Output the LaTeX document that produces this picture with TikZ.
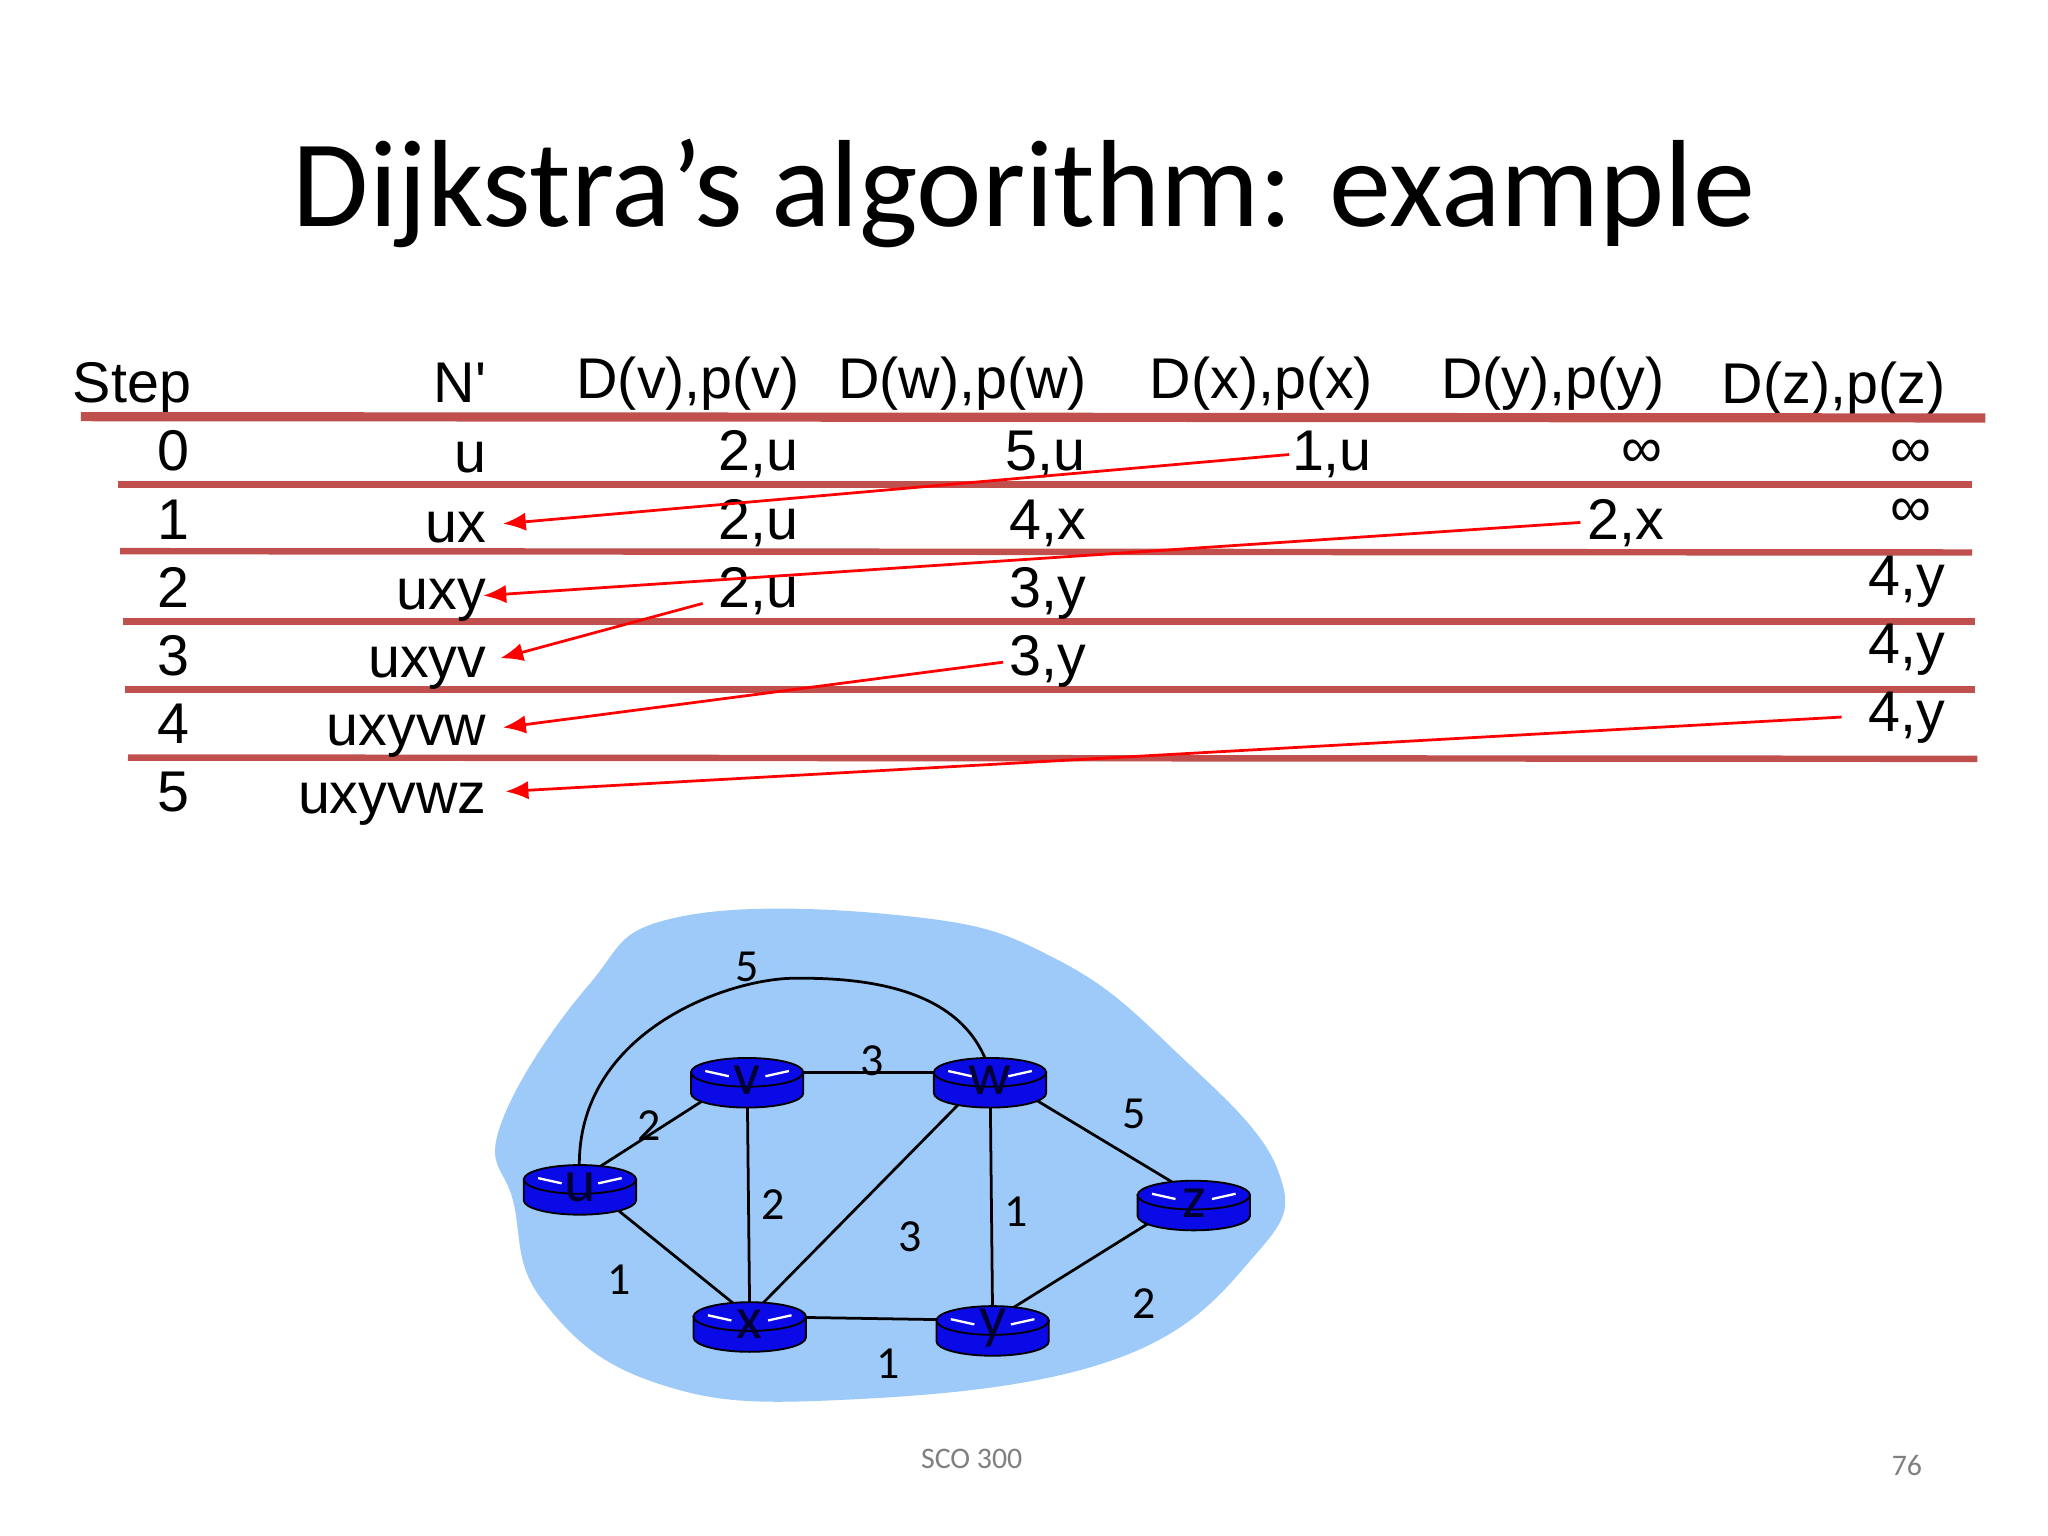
\documentclass[tikz,border=0pt]{standalone}
\usepackage{fontspec}
\setmainfont{Liberation Sans}
\newfontfamily\calfont{Carlito}
\newfontfamily\plainsans[Mapping=]{Liberation Sans}
\usetikzlibrary{arrows.meta,calc}
\definecolor{rule}{HTML}{C0504D}
\definecolor{blob}{HTML}{9DCAF8}
\definecolor{rtr}{HTML}{0A0AE6}
\tikzset{
  cell/.style={anchor=base east,inner sep=0pt,font=\fontsize{12.5}{14}\selectfont},
  ccell/.style={anchor=base,inner sep=0pt,font=\fontsize{12.5}{14}\selectfont},
  hline/.style={rule,line width=1.4pt},
  arr/.style={red,line width=0.6pt,-{Latex[length=5pt,width=4pt]}},
  lbl/.style={font=\calfont\fontsize{10}{12}\selectfont,inner sep=0pt},
  edge/.style={black,line width=0.6pt}
}
\newcommand{\router}[3]{%
  \fill[rtr,draw=black,line width=0.4pt] ($(#1)+(-43,0)$) -- ($(#1)+(-43,16)$) arc[start angle=180,end angle=360,x radius=43,y radius=-11] -- ($(#1)+(43,0)$) -- cycle;
  \fill[rtr,draw=black,line width=0.4pt] (#1) ellipse[x radius=43,y radius=11];
  \draw[white,line width=0.5pt] ($(#1)+(-32,-1)$) -- ($(#1)+(-14,3)$) ($(#1)+(32,-1)$) -- ($(#1)+(14,3)$);
  \node[font=\calfont\fontsize{13}{14}\selectfont,text=black!80!blue,inner sep=0pt] (#2l) at ($(#1)+(0,6)$) {#3};
}
\begin{document}
\begin{tikzpicture}[x=0.01cm,y=-0.01cm]
\useasboundingbox (0,0) rectangle (1568,1176);
\fill[white] (0,0) rectangle (1568,1176);
\node[font=\calfont\fontsize{27}{30}\selectfont,inner sep=0pt] (title) at (784,148) {Dijkstra’s algorithm: example};
% headers
\node[ccell] (hs) at (101,308) {Step};
\node[cell] (hn) at (373,308) {\plainsans N'};
\node[cell] (hv) at (613,305) {D(v),p(v)};
\node[cell] (hw) at (833,305) {D(w),p(w)};
\node[cell] (hx) at (1052,305) {D(x),p(x)};
\node[cell] (hy) at (1275,305) {D(y),p(y)};
\node[cell] (hz) at (1490,309) {D(z),p(z)};
% lines
\draw[hline,line width=2pt] (62,319) -- (1520,320);
\draw[hline] (90,371) -- (1510,371);
\draw[hline] (92,422) -- (1510,423);
\draw[hline] (94,476) -- (1512,476);
\draw[hline] (96,528) -- (1512,528);
\draw[hline] (98,580) -- (1514,581);
% steps
\foreach \i/\y in {0/360,1/413,2/465,3/517,4/569,5/621} \node[ccell] (s\i) at (133,\y) {\i};
\node[cell] (n0) at (373,362) {u};
\node[cell] (n1) at (373,415) {ux};
\node[cell] (n2) at (373,467) {uxy};
\node[cell] (n3) at (373,519) {uxyv};
\node[cell] (n4) at (373,571) {uxyvw};
\node[cell] (n5) at (373,623) {uxyvwz};
\node[cell] (v0) at (612,360) {2,u};
\node[cell] (v1) at (612,413) {2,u};
\node[cell] (v2) at (612,465) {2,u};
\node[cell] (w0) at (832,360) {5,u};
\node[cell] (w1) at (832,413) {4,x};
\node[cell] (w2) at (832,465) {3,y};
\node[cell] (w3) at (832,517) {3,y};
\node[cell] (x0) at (1051,360) {1,u};
\node[ccell] (y0) at (1257,358) {∞};
\node[cell] (y1) at (1275,413) {2,x};
\node[ccell] (z0) at (1463,358) {∞};
\node[ccell] (z1) at (1463,403) {∞};
\node[cell] (z2) at (1490,456) {4,y};
\node[cell] (z3) at (1490,508) {4,y};
\node[cell] (z4) at (1490,560) {4,y};
% arrows
\coordinate (a0) at (987,348); \coordinate (b0) at (385,401);
\coordinate (a1) at (1210,400); \coordinate (b1) at (370,456);
\coordinate (a2) at (538,462); \coordinate (b2) at (383,504);
\coordinate (a3) at (768,507); \coordinate (b3) at (385,557);
\coordinate (a4) at (1410,549); \coordinate (b4) at (387,606);
\foreach \i in {0,...,4} \draw[arr] (a\i) -- (b\i);
% blob
\fill[blob] plot[smooth cycle,tension=0.7] coordinates {(383,862) (450,755) (520,702) (700,702) (810,735) (900,805) (978,895) (960,962) (850,1042) (640,1072) (500,1058) (415,995) (393,920)};
% routers positions
\coordinate (u) at (444,903);
\coordinate (v) at (572,821);
\coordinate (w) at (758,821);
\coordinate (x) at (574,1008);
\coordinate (y) at (760,1011);
\coordinate (z) at (914,915);
% edges
\draw[edge] (u) -- (v); \draw[edge] (v) -- (w); \draw[edge] (v) -- (x);
\draw[edge] (u) -- (x); \draw[edge] (x) -- (w); \draw[edge] (w) -- (y);
\draw[edge] (x) -- (y); \draw[edge] (y) -- (z); \draw[edge] (w) -- (z);
\draw[edge] (u) .. controls (435,790) and (560,748) .. (610,749) .. controls (700,748) and (745,775) .. (w);
\router{u}{ru}{u}
\router{v}{rv}{v}
\router{w}{rw}{w}
\router{x}{rx}{x}
\router{y}{ry}{y}
\router{z}{rz}{z}
% labels
\node[lbl] (l1) at (572,740) {5};
\node[lbl] (l2) at (668,812) {3};
\node[lbl] (l3) at (497,862) {2};
\node[lbl] (l4) at (868,853) {5};
\node[lbl] (l5) at (592,922) {2};
\node[lbl] (l6) at (697,947) {3};
\node[lbl] (l7) at (778,928) {1};
\node[lbl] (l8) at (474,980) {1};
\node[lbl] (l9) at (876,998) {2};
\node[lbl] (l10) at (680,1044) {1};
\node[font=\calfont\fontsize{6.5}{8}\selectfont,text=gray] (ft) at (744,1117) {SCO 300};
\node[font=\calfont\fontsize{6.5}{8}\selectfont,text=gray] (pg) at (1460,1122) {76};
\end{tikzpicture}
\end{document}
